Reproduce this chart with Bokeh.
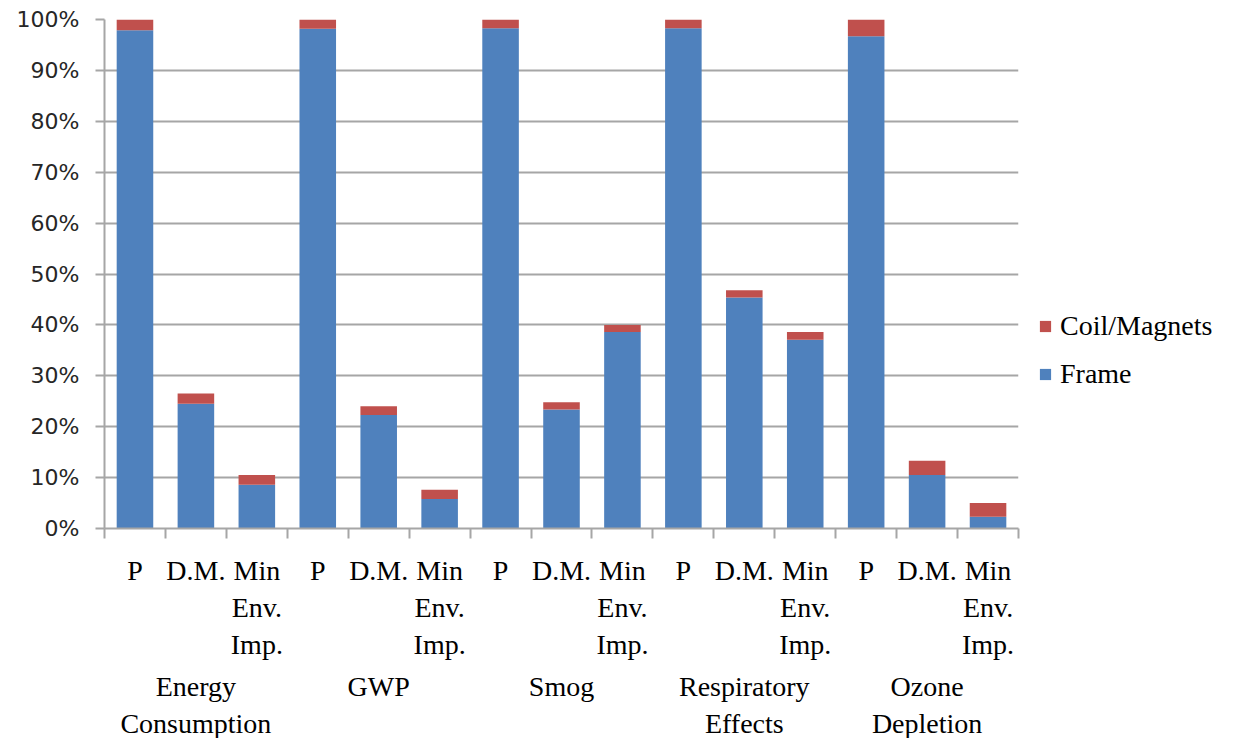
from bokeh.plotting import figure
from bokeh.models import (Range1d, LinearAxis, FixedTicker, PrintfTickFormatter,
                          Legend, LegendItem, ColumnDataSource)
from bokeh.embed import file_html
from bokeh.resources import INLINE

groups = ["Energy\nConsumption", "GWP", "Smog", "Respiratory\nEffects", "Ozone\nDepletion"]
subs = ["P", "D.M.", "Min\nEnv.\nImp."]
frame_vals = [97.9, 24.5, 8.6, 98.2, 22.3, 5.8, 98.3, 23.4, 38.6, 98.3, 45.4, 37.1, 96.7, 10.5, 2.3]
coil_vals = [2.1, 2.0, 1.9, 1.8, 1.7, 1.8, 1.7, 1.4, 1.4, 1.7, 1.4, 1.5, 3.3, 2.8, 2.7]
y_ticks = [0, 10, 20, 30, 40, 50, 60, 70, 80, 90, 100]

n = len(groups) * len(subs)
xs = [i + 0.5 for i in range(n)]
src = ColumnDataSource(dict(x=xs, Frame=frame_vals, Coil=coil_vals))

SERIF = "Liberation Serif"
GRID = "#A6A6A6"
FS = "28px"

p = figure(frame_width=914, frame_height=509, output_backend="svg", toolbar_location=None,
           x_range=Range1d(0, n), y_range=Range1d(0, 100), x_axis_location=None,
           min_border_left=104, min_border_top=19, min_border_right=215, min_border_bottom=210)
p.outline_line_color = None
p.background_fill_color = "white"
p.border_fill_color = "white"

rs = p.vbar_stack(["Frame", "Coil"], x="x", width=0.6, source=src,
                  color=["#4F81BD", "#C0504D"], line_color=None)

# y axis
ya = p.yaxis[0]
ya.ticker = FixedTicker(ticks=y_ticks)
ya.formatter = PrintfTickFormatter(format="%d%%")
ya.major_label_text_font = "DejaVu Sans"
ya.major_label_text_font_size = "22px"
ya.major_label_text_color = "#262626"
ya.axis_line_color = GRID
ya.axis_line_width = 2
ya.major_tick_line_color = GRID
ya.major_tick_line_width = 2
ya.major_tick_out = 9
ya.major_tick_in = 0
ya.minor_tick_line_color = None
ya.major_label_standoff = 16

p.ygrid.ticker = FixedTicker(ticks=y_ticks)
p.ygrid.grid_line_color = GRID
p.ygrid.grid_line_width = 2
p.xgrid.grid_line_color = None

# boundary ticks axis
ta = LinearAxis(ticker=FixedTicker(ticks=list(range(n + 1))))
ta.major_label_text_font_size = "0px"
ta.major_label_text_color = None
ta.major_label_standoff = 0
ta.axis_line_color = GRID
ta.axis_line_width = 2
ta.major_tick_line_color = GRID
ta.major_tick_line_width = 2
ta.major_tick_out = 10
ta.major_tick_in = 0
ta.minor_tick_line_color = None
p.add_layout(ta, "below")

# sub-category labels
sub_labels = [s for g in groups for s in subs]
sa = LinearAxis(ticker=FixedTicker(ticks=xs))
sa.major_label_overrides = {x: lab for x, lab in zip(xs, sub_labels)}
sa.axis_line_color = None
sa.major_tick_line_color = None
sa.minor_tick_line_color = None
sa.major_label_text_font = SERIF
sa.major_label_text_font_size = FS
sa.major_label_text_color = "black"
sa.major_label_standoff = 10
p.add_layout(sa, "below")

# group labels
gx = [len(subs) * k + len(subs) / 2 for k in range(len(groups))]
ga = LinearAxis(ticker=FixedTicker(ticks=gx))
ga.major_label_overrides = {x: lab for x, lab in zip(gx, groups)}
ga.axis_line_color = None
ga.major_tick_line_color = None
ga.minor_tick_line_color = None
ga.major_label_text_font = SERIF
ga.major_label_text_font_size = FS
ga.major_label_text_color = "black"
ga.major_label_standoff = 2
p.add_layout(ga, "below")

legend = Legend(items=[LegendItem(label="Coil/Magnets", renderers=[rs[1]]),
                       LegendItem(label="Frame", renderers=[rs[0]])],
                location=(20, 138))
legend.label_text_font = SERIF
legend.label_text_font_size = FS
legend.label_text_color = "black"
legend.glyph_width = 14
legend.glyph_height = 14
legend.spacing = 16
legend.border_line_color = None
legend.background_fill_alpha = 0
legend.label_standoff = 8
legend.margin = 0
legend.padding = 10
p.add_layout(legend, "right")

open("out.html", "w").write(file_html(p, INLINE))
